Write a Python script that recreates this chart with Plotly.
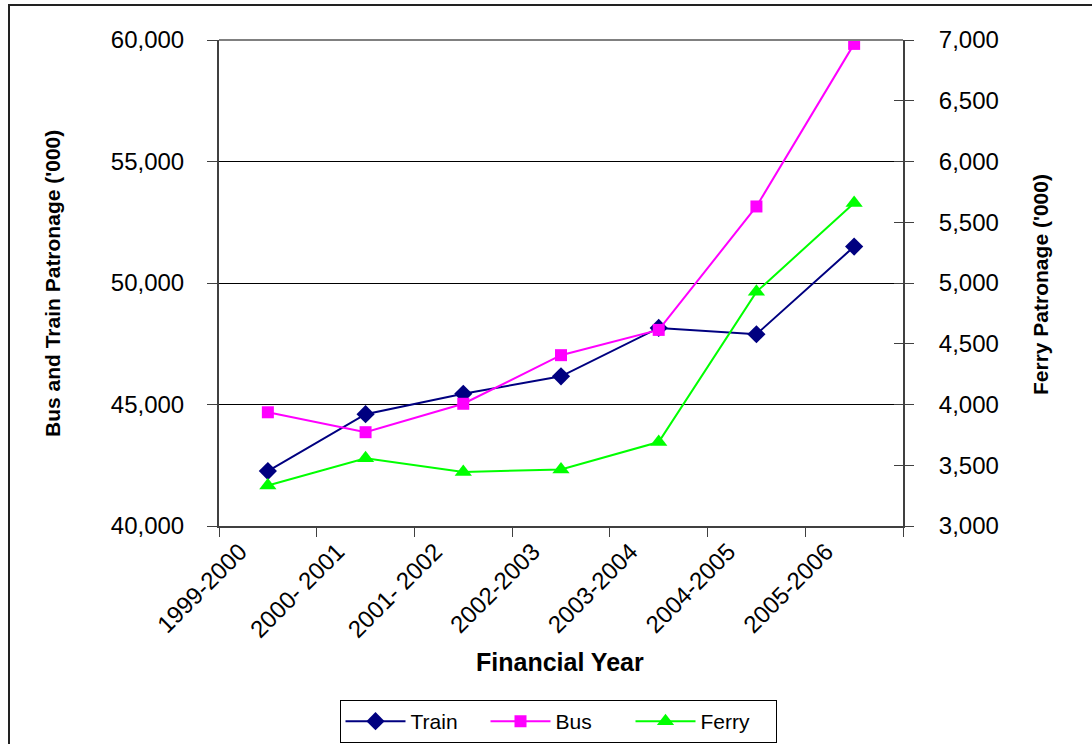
import plotly.graph_objects as go

years = ["1999-2000", "2000- 2001", "2001- 2002", "2002-2003", "2003-2004", "2004-2005", "2005-2006"]
train = [42260, 44600, 45440, 46160, 48150, 47890, 51500]
bus = [44680, 43860, 45030, 47030, 48070, 53150, 59840]
ferry = [3334, 3557, 3444, 3466, 3691, 4927, 5658]

FONT = "Liberation Sans, Arial, sans-serif"
AX = "#404040"
L, R, T, B = 219, 189, 40, 218
PW, PH = 1092 - L - R, 744 - T - B


def px(x):
    return (x - L) / PW


def py(y):
    return (744 - B - y) / PH


fig = go.Figure()
fig.add_trace(go.Scatter(x=years, y=train, name="Train", mode="lines+markers",
                         line=dict(color="#000080", width=2),
                         marker=dict(symbol="diamond", size=14, color="#000080")))
fig.add_trace(go.Scatter(x=years, y=bus, name="Bus", mode="lines+markers",
                         line=dict(color="#FF00FF", width=2),
                         marker=dict(symbol="square", size=12, color="#FF00FF")))
fig.add_trace(go.Scatter(x=years, y=ferry, name="Ferry", mode="lines+markers", yaxis="y2",
                         line=dict(color="#00FF00", width=2),
                         marker=dict(symbol="triangle-up", size=15, color="#00FF00")))
# invisible helper so the inner half of the right-axis cross ticks is drawn
fig.add_trace(go.Scatter(x=[years[0]], y=[3000], yaxis="y3", mode="markers",
                         marker=dict(opacity=0), showlegend=False, hoverinfo="skip"))

fig.update_layout(
    template="none",
    width=1092, height=744,
    margin=dict(l=L, r=R, t=T, b=B, autoexpand=False),
    paper_bgcolor="white", plot_bgcolor="white",
    font=dict(family=FONT, size=24, color="black"),
    showlegend=True,
    legend=dict(orientation="h", x=px(558), xanchor="center", y=py(700), yanchor="top",
                bordercolor="black", borderwidth=1, bgcolor="white",
                font=dict(size=21), itemwidth=60, entrywidth=70, tracegroupgap=0),
    xaxis=dict(type="category", range=[-0.5, 6.5], showgrid=False, automargin=False,
               showline=True, linecolor=AX, linewidth=2,
               ticks="outside", tickson="boundaries", ticklen=9, tickcolor=AX, tickwidth=1,
               tickangle=-45, tickfont=dict(size=24), ticklabelshift=-28, ticklabelstandoff=0),
    yaxis=dict(range=[40000, 60000], dtick=5000, tickformat=",", automargin=False,
               showgrid=True, gridcolor="black", gridwidth=1,
               showline=True, linecolor=AX, linewidth=2,
               ticks="outside", ticklen=10, tickcolor=AX, tickwidth=1,
               ticklabelstandoff=18, zeroline=False),
    yaxis2=dict(range=[3000, 7000], dtick=500, tickformat=",", overlaying="y", side="right",
                automargin=False, showgrid=False, showline=True, linecolor=AX, linewidth=2,
                ticks="outside", ticklen=9, tickcolor=AX, tickwidth=1,
                ticklabelstandoff=20, zeroline=False),
    yaxis3=dict(range=[3000, 7000], dtick=500, overlaying="y", side="right", automargin=False,
                showgrid=False, showline=False, showticklabels=False,
                ticks="inside", ticklen=9, tickcolor=AX, tickwidth=1, zeroline=False),
    annotations=[
        dict(text="<b>Bus and Train Patronage ('000)</b>", xref="paper", yref="paper",
             x=px(52), y=py(284), textangle=-90, showarrow=False,
             font=dict(size=21), xanchor="center", yanchor="middle"),
        dict(text="<b>Ferry Patronage ('000)</b>", xref="paper", yref="paper",
             x=px(1040), y=py(285), textangle=-90, showarrow=False,
             font=dict(size=21), xanchor="center", yanchor="middle"),
        dict(text="<b>Financial Year</b>", xref="paper", yref="paper",
             x=px(560), y=py(662), showarrow=False,
             font=dict(size=25), xanchor="center", yanchor="middle"),
    ],
    shapes=[
        dict(type="line", xref="paper", yref="paper", x0=0, x1=1, y0=1, y1=1,
             line=dict(color="#808080", width=2), layer="above"),
        dict(type="rect", xref="paper", yref="paper",
             x0=px(9), x1=px(1100), y0=py(760), y1=py(5),
             line=dict(color="#222222", width=2), fillcolor="rgba(0,0,0,0)", layer="below"),
    ],
)

fig.write_html("out.html")
